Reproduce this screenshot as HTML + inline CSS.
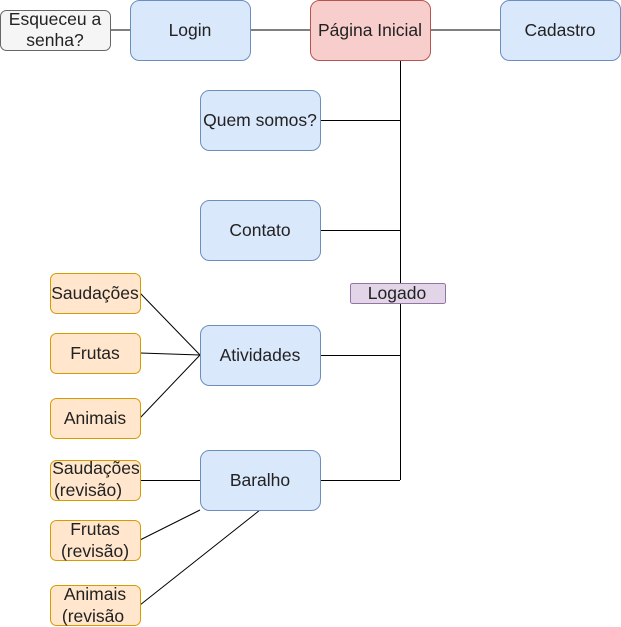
<!DOCTYPE html>
<html><head><meta charset="utf-8"><style>
html,body{margin:0;padding:0;background:#fff;width:621px;height:627px;overflow:hidden}
text{font-family:"Liberation Sans",Arial,sans-serif;font-size:17.5px;fill:#222}
</style></head><body>
<svg width="621" height="627" viewBox="0 0 621 627" xmlns="http://www.w3.org/2000/svg">
<g stroke="#000" stroke-width="1" fill="none">
<line x1="110" y1="30" x2="130" y2="30"/>
<line x1="250" y1="30" x2="310" y2="30"/>
<line x1="430" y1="30" x2="500" y2="30"/>
<line x1="400.5" y1="60" x2="400.5" y2="480"/>
<line x1="320" y1="120.5" x2="400" y2="120.5"/>
<line x1="320" y1="230.5" x2="400" y2="230.5"/>
<line x1="320" y1="355.5" x2="400" y2="355.5"/>
<line x1="320" y1="480.5" x2="400" y2="480.5"/>
<line x1="140" y1="293" x2="200" y2="355"/>
<line x1="140" y1="353" x2="200" y2="355"/>
<line x1="140" y1="418" x2="200" y2="355"/>
<line x1="140" y1="480.5" x2="200" y2="480.5"/>
<line x1="140" y1="540" x2="200" y2="510"/>
<line x1="140" y1="605" x2="260" y2="510"/>
</g>
<g stroke-width="1">
<rect x="0.5" y="10.5" width="110" height="40" rx="6" fill="#f5f5f5" stroke="#666"/>
<rect x="130.5" y="0.5" width="120" height="60" rx="9" fill="#dae8fc" stroke="#6c8ebf"/>
<rect x="310.5" y="0.5" width="120" height="60" rx="9" fill="#f8cecc" stroke="#b85450"/>
<rect x="500.5" y="0.5" width="120" height="60" rx="9" fill="#dae8fc" stroke="#6c8ebf"/>
<rect x="200.5" y="90.5" width="120" height="60" rx="9" fill="#dae8fc" stroke="#6c8ebf"/>
<rect x="200.5" y="200.5" width="120" height="60" rx="9" fill="#dae8fc" stroke="#6c8ebf"/>
<rect x="200.5" y="325.5" width="120" height="60" rx="9" fill="#dae8fc" stroke="#6c8ebf"/>
<rect x="200.5" y="450.5" width="120" height="60" rx="9" fill="#dae8fc" stroke="#6c8ebf"/>
<rect x="350.5" y="283.5" width="95" height="20" rx="2" fill="#e1d5e7" stroke="#9673a6"/>
<rect x="50.5" y="273.5" width="90" height="40" rx="6" fill="#ffe6cc" stroke="#d79b00"/>
<rect x="50.5" y="333.5" width="90" height="40" rx="6" fill="#ffe6cc" stroke="#d79b00"/>
<rect x="50.5" y="398.5" width="90" height="40" rx="6" fill="#ffe6cc" stroke="#d79b00"/>
<rect x="50.5" y="460.5" width="90" height="40" rx="6" fill="#ffe6cc" stroke="#d79b00"/>
<rect x="50.5" y="520.5" width="90" height="40" rx="6" fill="#ffe6cc" stroke="#d79b00"/>
<rect x="50.5" y="585.5" width="90" height="40" rx="6" fill="#ffe6cc" stroke="#d79b00"/>
</g>
<g text-anchor="middle">
<text x="55" y="25">Esqueceu a</text><text x="55" y="46">senha?</text>
<text x="190" y="36">Login</text>
<text x="370" y="36">Página Inicial</text>
<text x="560" y="36">Cadastro</text>
<text x="260" y="126">Quem somos?</text>
<text x="260" y="236">Contato</text>
<text x="260" y="361">Atividades</text>
<text x="260" y="486">Baralho</text>
<text x="397" y="299">Logado</text>
<text x="95" y="299">Saudações</text>
<text x="95" y="359">Frutas</text>
<text x="95" y="424">Animais</text>
<text x="96" y="474">Saudações</text><text x="88" y="496">(revisão)</text>
<text x="95" y="535">Frutas</text><text x="95" y="557">(revisão)</text>
<text x="95" y="600">Animais</text><text x="93" y="622">(revisão</text>
</g>
</svg>
</body></html>
